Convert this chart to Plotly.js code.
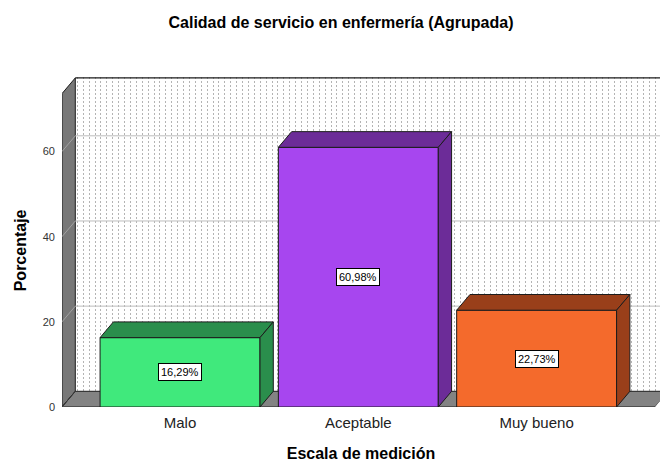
<!DOCTYPE html>
<html>
<head>
<meta charset="utf-8">
<script src="https://cdn.plot.ly/plotly-3.0.1.min.js"></script>
<style>html,body{margin:0;padding:0;background:#fff;}#chart{width:660px;height:462px;}</style>
</head>
<body>
<div id="chart"></div>
<script>
// ---- data ----
const categories = ['Malo', 'Aceptable', 'Muy bueno'];
const percentages = [16.29, 60.98, 22.73];
const yTickValues = [0, 20, 40, 60];
const yTickLabels = ['0', '20', '40', '60'];
const frontColors = ['#40e97c', '#a746ef', '#f46a2c'];
const shadeColors = ['#2a8e4c', '#6c2c98', '#993f1a'];

// ---- geometry (category units / value units) ----
const BAR_W = 0.897;
const DX = 0.0746;
const DY = 3.69;
const X_LEFT = -0.662;
const X_RIGHT = 2.692;
const FLOOR_RIGHT = 2.664;
const WALL_TOP = 73.6;
const Y_TOP = 77.5;
const EDGE = '#1c1c1c';

const traces = [];
function poly(xs, ys, fill, lineColor, lw) {
  traces.push({
    type: 'scatter', mode: 'lines', x: xs.concat([xs[0]]), y: ys.concat([ys[0]]),
    fill: 'toself', fillcolor: fill,
    line: {color: lineColor || fill, width: lw === undefined ? 1 : lw},
    hoverinfo: 'skip', showlegend: false
  });
}
function line(xs, ys, color, w) {
  traces.push({
    type: 'scatter', mode: 'lines', x: xs, y: ys,
    line: {color: color, width: w || 1},
    hoverinfo: 'skip', showlegend: false
  });
}

// dummy trace so that the texture axis is drawn
traces.push({type: 'scatter', x: [0], y: [0], xaxis: 'x2', mode: 'markers',
  marker: {opacity: 0}, hoverinfo: 'skip', showlegend: false});

// white corner above left wall
poly([X_LEFT, X_LEFT + DX, X_LEFT], [WALL_TOP, WALL_TOP + DY, Y_TOP + 1], '#ffffff', '#ffffff', 0);
// left wall
poly([X_LEFT, X_LEFT, X_LEFT + DX, X_LEFT + DX], [0, WALL_TOP, WALL_TOP + DY, DY], '#787878', EDGE, 1);
// floor
poly([X_LEFT, FLOOR_RIGHT, FLOOR_RIGHT + DX, X_LEFT + DX], [0, 0, DY, DY], '#838383', EDGE, 1);
// white corner right of floor
poly([FLOOR_RIGHT, FLOOR_RIGHT + DX, X_RIGHT + 1, X_RIGHT + 1], [0, DY, DY, 0], '#ffffff', '#ffffff', 0);

// grid lines: slanted part on the left wall and horizontal part on the back wall
yTickValues.forEach(function (v) {
  line([X_LEFT, X_LEFT + DX], [v, v + DY], v === 0 ? '#3a3a3a' : '#a2a2a2', 1);
  if (v > 0) line([X_LEFT + DX, X_RIGHT + 1], [v + DY, v + DY], '#bdbdbd', 1);
});
// back wall top edge
line([X_LEFT + DX, X_RIGHT + 1], [WALL_TOP + DY, WALL_TOP + DY], EDGE, 1.2);

// bars: front, top, side faces
categories.forEach(function (c, i) {
  const v = percentages[i];
  const x0 = i - BAR_W / 2, x1 = i + BAR_W / 2;
  poly([x0, x1, x1, x0], [0, 0, v, v], frontColors[i], EDGE, 1);
  poly([x0, x1, x1 + DX, x0 + DX], [v, v, v + DY, v + DY], shadeColors[i], EDGE, 1);
  poly([x1, x1 + DX, x1 + DX, x1], [0, DY, v + DY, v], shadeColors[i], EDGE, 1);
});

const annotations = categories.map(function (c, i) {
  return {
    x: i, y: percentages[i] / 2, xref: 'x', yref: 'y',
    text: percentages[i].toFixed(2).replace('.', ',') + '%',
    showarrow: false, bgcolor: '#ffffff', bordercolor: '#000000', borderwidth: 1, borderpad: 2,
    font: {family: 'Arial, Liberation Sans, sans-serif', size: 11, color: '#000'}
  };
});
annotations.push({
  text: 'Porcentaje', textangle: -90, xref: 'paper', yref: 'y',
  x: (20 - 62) / 598, y: WALL_TOP / 2, xanchor: 'center', yanchor: 'middle', showarrow: false,
  font: {family: 'Arial, Liberation Sans, sans-serif', size: 16, color: '#000', weight: 'bold'}
});

const layout = {
  width: 660, height: 462,
  margin: {l: 62, r: 0, t: 77, b: 55},
  paper_bgcolor: '#ffffff', plot_bgcolor: '#ffffff',
  showlegend: false,
  font: {family: 'Arial, Liberation Sans, sans-serif', color: '#222'},
  title: {
    text: 'Calidad de servicio en enfermería (Agrupada)',
    x: 341 / 660, xanchor: 'center', xref: 'container',
    y: 1 - 22 / 462, yanchor: 'middle', yref: 'container',
    font: {size: 16, color: '#000', weight: 'bold'}
  },
  xaxis: {
    range: [X_LEFT, X_RIGHT], tickvals: [0, 1, 2], ticktext: categories,
    showgrid: false, zeroline: false, showline: false, ticks: '',
    tickfont: {size: 15, color: '#222'}, ticklabelstandoff: 5,
    title: {text: 'Escala de medición', standoff: 19, font: {size: 16, color: '#000', weight: 'bold'}},
    fixedrange: true
  },
  xaxis2: {
    overlaying: 'x', range: [0, 598], tick0: 15.3, dtick: 5.9,
    showgrid: true, gridcolor: '#b4b4b4', gridwidth: 1, griddash: '2px,2px',
    showticklabels: false, ticks: '', zeroline: false, showline: false, fixedrange: true
  },
  yaxis: {
    range: [0, Y_TOP], tickvals: yTickValues, ticktext: yTickLabels,
    showgrid: false, zeroline: false, showline: false, ticks: '',
    tickfont: {size: 11, color: '#333'}, ticklabelstandoff: 6, fixedrange: true
  },
  annotations: annotations
};

Plotly.newPlot('chart', traces, layout, {displayModeBar: false, staticPlot: true});
</script>
</body>
</html>
